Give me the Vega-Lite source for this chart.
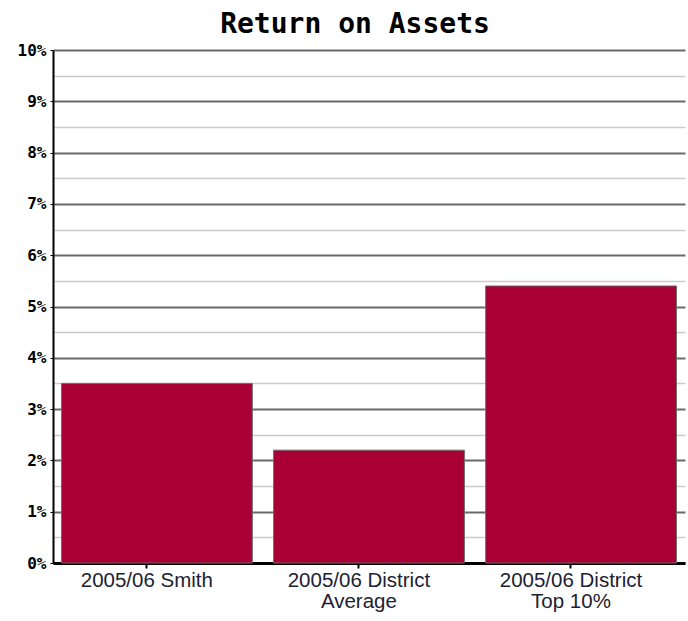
{
  "$schema": "https://vega.github.io/schema/vega-lite/v6.json",
  "width": 632,
  "height": 513,
  "autosize": {"type": "none"},
  "padding": {"left": 53, "top": 50, "right": 3, "bottom": 58},
  "background": "white",
  "title": {
    "text": "Return on Assets",
    "font": "DejaVu Sans Mono",
    "fontSize": 28,
    "fontWeight": "bold",
    "color": "#000000",
    "anchor": "middle",
    "offset": 3,
    "dx": -14
  },
  "data": {
    "values": [
      {"category": "2005/06 Smith", "roa": 0.035},
      {"category": "2005/06 District|Average", "roa": 0.022},
      {"category": "2005/06 District|Top 10%", "roa": 0.054}
    ]
  },
  "mark": {"type": "bar", "color": "#A80034", "stroke": "#6e6e6e", "strokeWidth": 1},
  "encoding": {
    "x": {
      "field": "category",
      "type": "nominal",
      "sort": null,
      "scale": {"paddingInner": 0.1, "paddingOuter": 0.04},
      "axis": {
        "title": null,
        "labelAngle": 0,
        "labelExpr": "split(datum.label, '|')",
        "labelFont": "Liberation Sans",
        "labelFontSize": 20.5,
        "labelColor": "#1c2233",
        "labelLineHeight": 21,
        "labelPadding": 2,
        "domainColor": "#000000",
        "domainWidth": 3,
        "tickColor": "#000000",
        "tickWidth": 2,
        "tickSize": 5,
        "tickOffset": -10.6,
        "grid": false
      }
    },
    "y": {
      "field": "roa",
      "type": "quantitative",
      "scale": {"domain": [0, 0.1], "nice": false},
      "axis": {
        "title": null,
        "values": [0, 0.005, 0.01, 0.015, 0.02, 0.025, 0.03, 0.035, 0.04, 0.045, 0.05, 0.055, 0.06, 0.065, 0.07, 0.075, 0.08, 0.085, 0.09, 0.095, 0.1],
        "labelExpr": "round(datum.value*1000) % 10 == 0 ? format(datum.value, '.0%') : ''",
        "labelFont": "DejaVu Sans Mono",
        "labelFontWeight": "bold",
        "labelFontSize": 16,
        "labelColor": "#000000",
        "labelPadding": 4,
        "domainColor": "#000000",
        "domainWidth": 2,
        "tickColor": "#000000",
        "tickSize": 3,
        "tickOpacity": {"condition": {"test": "round(datum.value*1000) % 10 == 0", "value": 1}, "value": 0},
        "grid": true,
        "gridColor": {"condition": {"test": "round(datum.value*1000) % 10 == 0", "value": "#6a6a6a"}, "value": "#cccccc"},
        "gridWidth": {"condition": {"test": "round(datum.value*1000) % 10 == 0", "value": 2}, "value": 1.5}
      }
    }
  },
  "config": {
    "view": {"stroke": null}
  }
}
